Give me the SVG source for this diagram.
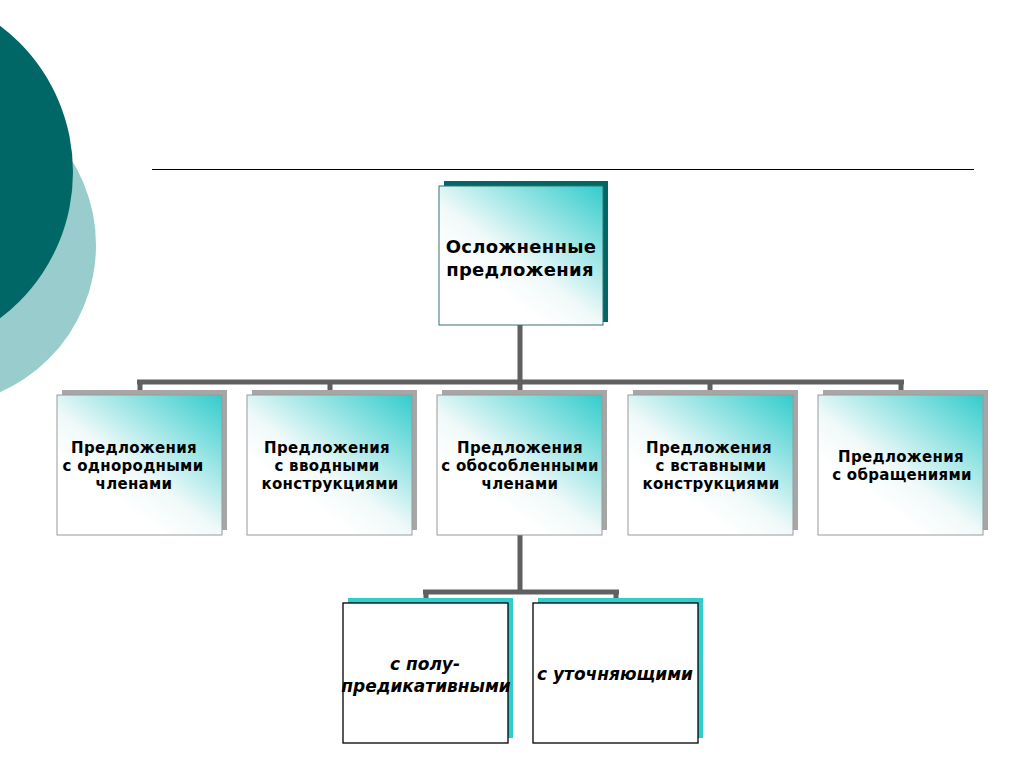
<svg xmlns="http://www.w3.org/2000/svg" width="1024" height="767" viewBox="0 0 1024 767">
<defs>
<linearGradient id="g" x1="0.35" y1="0.75" x2="1" y2="0">
<stop offset="0" stop-color="#ffffff"/>
<stop offset="0.25" stop-color="#f0f9f9"/>
<stop offset="1" stop-color="#33cccc"/>
</linearGradient>
<style>
.t{font-family:"DejaVu Sans",Verdana,sans-serif;font-weight:bold;fill:#000;text-anchor:middle}
.t1{font-size:18px;letter-spacing:0.3px}
.t2{font-size:15px;letter-spacing:0.3px}
.t3{font-size:17px;font-style:italic}
.front{fill:url(#g);stroke:#9a9a9a;stroke-width:1}
.gsh{fill:#a6a6a6}
.conn{fill:none;stroke:#606060;stroke-width:5}
</style>
</defs>
<rect width="1024" height="767" fill="#ffffff"/>
<circle cx="-65" cy="245" r="161" fill="#99cccc"/>
<circle cx="-110" cy="172" r="183" fill="#006666"/>
<line x1="152" y1="169.5" x2="974" y2="169.5" stroke="#000" stroke-width="1"/>

<g id="connectors">
<path class="conn" d="M520 325 V382 M137 382 H904 M140 382 V390 M330 382 V390 M520 382 V390 M710 382 V390 M901 382 V390"/>
<path class="conn" d="M520 535 V592 M423 592 H619 M426 592 V600 M616 592 V600"/>
</g>

<g id="root">
<rect x="444" y="181" width="164" height="141" fill="#006666"/>
<rect x="439" y="186" width="164" height="139" fill="url(#g)" stroke="#3a7070" stroke-width="1"/>
<text class="t t1" x="521" y="253">Осложненные</text>
<text class="t t1" x="520" y="276">предложения</text>
</g>

<g id="n1">
<rect class="gsh" x="62" y="390" width="165" height="140"/>
<rect class="front" x="57" y="395" width="165" height="140"/>
<text class="t t2" x="134" y="453">Предложения</text>
<text class="t t2" x="133" y="471">с однородными</text>
<text class="t t2" x="134" y="489">членами</text>
</g>

<g id="n2">
<rect class="gsh" x="252" y="390" width="165" height="140"/>
<rect class="front" x="247" y="395" width="165" height="140"/>
<text class="t t2" x="327" y="453">Предложения</text>
<text class="t t2" x="327" y="471">с вводными</text>
<text class="t t2" x="330" y="489">конструкциями</text>
</g>

<g id="n3">
<rect class="gsh" x="442" y="390" width="165" height="140"/>
<rect class="front" x="437" y="395" width="165" height="140"/>
<text class="t t2" x="520" y="453">Предложения</text>
<text class="t t2" x="520" y="471">с обособленными</text>
<text class="t t2" x="520" y="489">членами</text>
</g>

<g id="n4">
<rect class="gsh" x="633" y="390" width="165" height="140"/>
<rect class="front" x="628" y="395" width="165" height="140"/>
<text class="t t2" x="709" y="453">Предложения</text>
<text class="t t2" x="711" y="471">с вставными</text>
<text class="t t2" x="711" y="489">конструкциями</text>
</g>

<g id="n5">
<rect class="gsh" x="823" y="390" width="165" height="140"/>
<rect class="front" x="818" y="395" width="165" height="140"/>
<text class="t t2" x="901" y="462">Предложения</text>
<text class="t t2" x="902" y="480">с обращениями</text>
</g>

<g id="n6">
<rect x="348" y="598" width="165" height="140" fill="#33cccc"/>
<rect x="343" y="603" width="165" height="140" fill="#ffffff" stroke="#000" stroke-width="1.3"/>
<text class="t t3" x="425" y="670">с полу-</text>
<text class="t t3" x="426" y="692">предикативными</text>
</g>

<g id="n7">
<rect x="538" y="598" width="165" height="140" fill="#33cccc"/>
<rect x="533" y="603" width="165" height="140" fill="#ffffff" stroke="#000" stroke-width="1.3"/>
<text class="t t3" x="615" y="680">с уточняющими</text>
</g>
</svg>
